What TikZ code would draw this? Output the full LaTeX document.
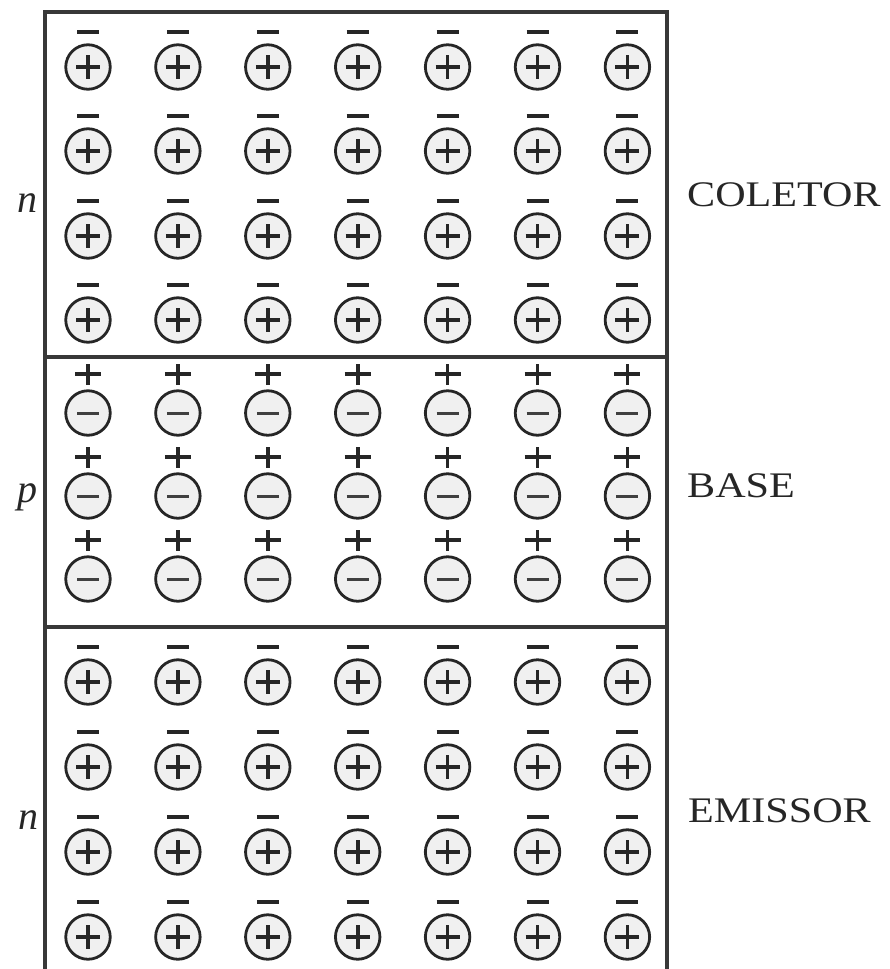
\documentclass[tikz,border=0pt]{standalone}
\usepackage{fontspec}
\setmainfont{Liberation Serif}
\begin{document}
\begin{tikzpicture}[x=1pt,y=-1pt]
\tikzset{
 frame/.style={line width=3.2pt, draw=black!78},
 ion/.style={circle, draw=black!85, line width=2.8pt, fill=black!6, minimum size=44.5pt, inner sep=0pt},
 sign/.style={line width=3.6pt, draw=black!85},
 thinsign/.style={line width=3pt, draw=black!75},
 lbl/.style={font=\fontsize{36}{36}\selectfont, anchor=west, inner sep=0pt, text=black!85},
 typ/.style={font=\fontsize{40}{40}\selectfont\itshape, inner sep=0pt, text=black!85}
}
\useasboundingbox (0,0) rectangle (890,969);
% frame
\draw[frame] (45,969) -- (45,12) -- (667,12) -- (667,969);
\draw[frame] (45,357) -- (667,357);
\draw[frame] (45,627) -- (667,627);
% collector: n region
\foreach \r/\y in {1/67,2/151,3/236,4/320}{
  \foreach \c in {0,...,6}{
    \pgfmathsetmacro{\x}{88+89.9*\c}
    \node[ion] (col-\r-\c) at (\x,\y) {};
    \draw[sign] (\x-12,\y) -- (\x+12,\y);
    \draw[sign] (\x,\y-12) -- (\x,\y+12);
    \draw[sign] (\x-11,\y-35) -- (\x+11,\y-35);
  }
}
% base: p region
\foreach \r/\y in {1/413,2/496,3/579}{
  \foreach \c in {0,...,6}{
    \pgfmathsetmacro{\x}{88+89.9*\c}
    \node[ion] (bas-\r-\c) at (\x,\y) {};
    \draw[thinsign] (\x-11,\y) -- (\x+11,\y);
    \draw[sign] (\x-13,\y-39) -- (\x+13,\y-39);
    \draw[sign] (\x,\y-49) -- (\x,\y-28);
  }
}
% emitter: n region
\foreach \r/\y in {1/682,2/767,3/852,4/937}{
  \foreach \c in {0,...,6}{
    \pgfmathsetmacro{\x}{88+89.9*\c}
    \node[ion] (emi-\r-\c) at (\x,\y) {};
    \draw[sign] (\x-12,\y) -- (\x+12,\y);
    \draw[sign] (\x,\y-12) -- (\x,\y+12);
    \draw[sign] (\x-11,\y-35) -- (\x+11,\y-35);
  }
}
% type labels
\node[typ] (ntop) at (27,203) {n};
\node[typ] (pmid) at (27,497) {p};
\node[typ] (nbot) at (28,820) {n};
% region labels
\node[lbl] (coletor) at (687,195) {\scalebox{1.17}[1]{COLETOR}};
\node[lbl] (base) at (687,486) {\scalebox{1.17}[1]{BASE}};
\node[lbl] (emissor) at (688,811) {\scalebox{1.17}[1]{EMISSOR}};
\end{tikzpicture}
\end{document}
